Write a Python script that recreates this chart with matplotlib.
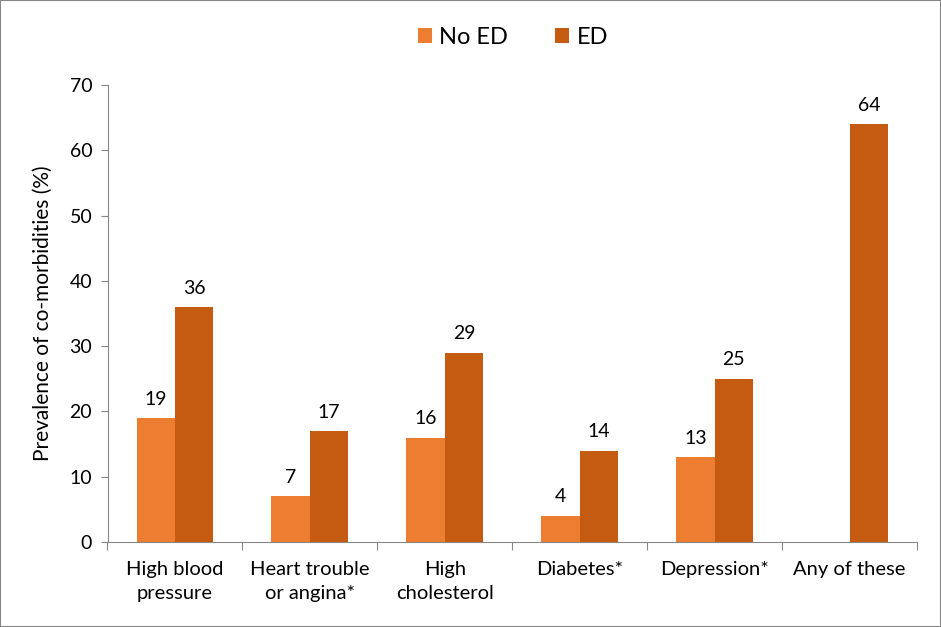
import matplotlib
matplotlib.use("Agg")
import matplotlib.pyplot as plt
import numpy as np

categories = ["High blood\npressure", "Heart trouble\nor angina*", "High\ncholesterol",
              "Diabetes*", "Depression*", "Any of these"]
no_ed = [19, 7, 16, 4, 13, None]
ed = [36, 17, 29, 14, 25, 64]
series_names = ["No ED", "ED"]
yticks = [0, 10, 20, 30, 40, 50, 60, 70]

plt.rcParams['font.family'] = ['Lato', 'DejaVu Sans']
fig = plt.figure(figsize=9.41 * np.array([1, 627 / 941]), dpi=100)
ax = fig.add_axes([107.5 / 941, 1 - 542 / 627, (917 - 107.5) / 941, (542 - 85) / 627])

x = np.arange(len(categories))
w = 0.285
c1, c2 = "#ED7D31", "#C55A11"
for i in range(len(categories)):
    if no_ed[i] is not None:
        ax.bar(x[i] - w / 2, no_ed[i], w, color=c1, label=series_names[0] if i == 0 else None)
        ax.text(x[i] - w / 2, no_ed[i] + 1.6, str(no_ed[i]), ha="center", va="bottom", fontsize=14)
    ax.bar(x[i] + w / 2, ed[i], w, color=c2, label=series_names[1] if i == 0 else None)
    ax.text(x[i] + w / 2, ed[i] + 1.6, str(ed[i]), ha="center", va="bottom", fontsize=14)

ax.set_xlim(-0.5, len(categories) - 0.5)
ax.set_ylim(0, 70)
ax.set_yticks(yticks)
ax.tick_params(axis="y", labelsize=14, length=5, color="#868686", pad=6)
ax.set_xticks(np.arange(-0.5, len(categories), 1))
ax.set_xticklabels([])
ax.tick_params(axis="x", length=6, color="#868686")
ax.set_xticks(x, minor=True)
ax.set_xticklabels(categories, minor=True, fontsize=14.5, linespacing=1.45)
ax.tick_params(axis="x", which="minor", length=0, pad=14)
for s in ["top", "right"]:
    ax.spines[s].set_visible(False)
for s in ["left", "bottom"]:
    ax.spines[s].set_color("#868686")
ax.set_ylabel("Prevalence of co-morbidities (%)", fontsize=15, labelpad=12)

fig.legend(loc="center", bbox_to_anchor=(513 / 941, 1 - 37 / 627), ncol=2, frameon=False,
           fontsize=17, handlelength=0.6, handleheight=0.6, columnspacing=2.0, handletextpad=0.3)

fig.patches.append(plt.Rectangle((0, 0), 1, 1, transform=fig.transFigure, fill=False,
                                 edgecolor="#868686", linewidth=1.5))
fig.savefig("out.png", dpi=100)
